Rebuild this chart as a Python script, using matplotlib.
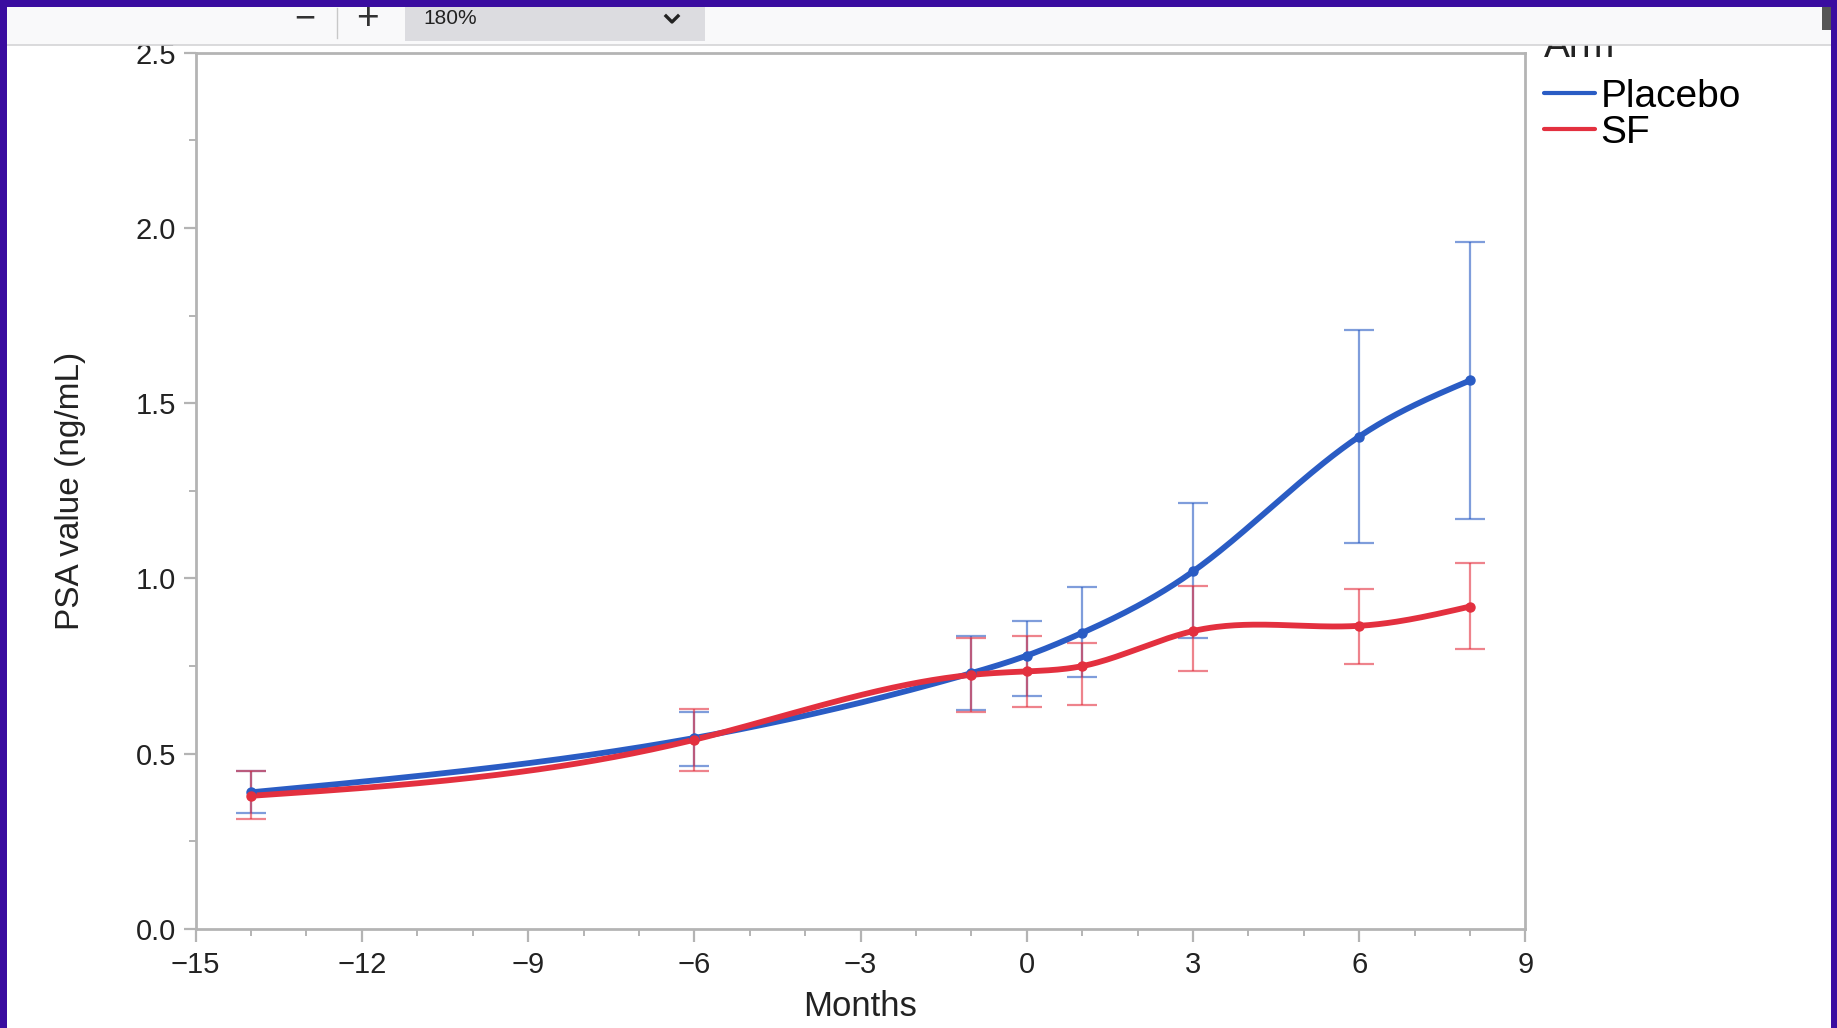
import numpy as np
import matplotlib
matplotlib.use("Agg")
import matplotlib.pyplot as plt
from matplotlib.patches import Rectangle
from matplotlib.lines import Line2D
from matplotlib.ticker import MultipleLocator

plt.rcParams["font.family"] = ["Liberation Sans", "DejaVu Sans"]

# Data
months = [-14, -6, -1, 0, 1, 3, 6, 8]
placebo = [0.39, 0.545, 0.73, 0.78, 0.845, 1.02, 1.405, 1.565]
placebo_lo = [0.33, 0.465, 0.625, 0.665, 0.72, 0.83, 1.10, 1.17]
placebo_hi = [0.45, 0.62, 0.835, 0.88, 0.975, 1.215, 1.71, 1.96]
sf = [0.38, 0.54, 0.725, 0.735, 0.75, 0.85, 0.865, 0.92]
sf_lo = [0.315, 0.45, 0.62, 0.632, 0.64, 0.735, 0.755, 0.80]
sf_hi = [0.45, 0.628, 0.83, 0.836, 0.815, 0.98, 0.97, 1.045]

BLUE = "#2a5cc4"
RED = "#e3303f"
PURPLE = "#3a0ca0"


def smooth_curve(x, y, n=400):
    # natural cubic spline, only used to draw the smoothed line
    x = np.asarray(x, float)
    y = np.asarray(y, float)
    k = len(x)
    h = np.diff(x)
    A = np.zeros((k, k))
    r = np.zeros(k)
    A[0, 0] = A[-1, -1] = 1
    for i in range(1, k - 1):
        A[i, i - 1] = h[i - 1]
        A[i, i] = 2 * (h[i - 1] + h[i])
        A[i, i + 1] = h[i]
        r[i] = 6 * ((y[i + 1] - y[i]) / h[i] - (y[i] - y[i - 1]) / h[i - 1])
    m = np.linalg.solve(A, r)
    xs = np.linspace(x[0], x[-1], n)
    idx = np.clip(np.searchsorted(x, xs) - 1, 0, k - 2)
    x0, x1 = x[idx], x[idx + 1]
    hh = x1 - x0
    t0, t1 = x1 - xs, xs - x0
    ys = (m[idx] * t0 ** 3 + m[idx + 1] * t1 ** 3) / (6 * hh) \
        + (y[idx] / hh - m[idx] * hh / 6) * t0 \
        + (y[idx + 1] / hh - m[idx + 1] * hh / 6) * t1
    return xs, ys


fig = plt.figure(figsize=(18.37, 10.28), dpi=100)
fig.patch.set_facecolor("white")
ax = fig.add_axes([0.1065, 0.0963, 0.7239, 0.8524])

for vals, lo, hi, c, name in [(placebo, placebo_lo, placebo_hi, BLUE, "Placebo"),
                              (sf, sf_lo, sf_hi, RED, "SF")]:
    v = np.array(vals)
    err = [v - np.array(lo), np.array(hi) - v]
    ax.errorbar(months, v, yerr=err, fmt="none", ecolor=c, alpha=0.6,
                elinewidth=1.6, capsize=11, capthick=1.6, zorder=2)
    xs, ys = smooth_curve(months, v)
    ax.plot(xs, ys, color=c, lw=4.2, zorder=3, label=name, solid_capstyle="round")
    ax.plot(months, v, "o", color=c, ms=6.5, zorder=4)

ax.set_xlim(-15, 9)
ax.set_ylim(0, 2.5)
ax.xaxis.set_major_locator(MultipleLocator(3))
ax.xaxis.set_minor_locator(MultipleLocator(1))
ax.yaxis.set_major_locator(MultipleLocator(0.5))
ax.yaxis.set_minor_locator(MultipleLocator(0.25))
ax.set_yticklabels([f"{t:.1f}" for t in ax.get_yticks()])
for s in ax.spines.values():
    s.set_color("#b4b4b4")
    s.set_linewidth(2)
ax.tick_params(which="major", length=9, width=1.6, color="#b4b4b4",
               labelsize=21, labelcolor="#222222", pad=5)
ax.tick_params(axis="x", which="major", pad=7)
ax.tick_params(which="minor", length=5, width=1.4, color="#b4b4b4")

ax.set_xlabel("Months", fontsize=25, color="#222222", labelpad=8)
ax.set_ylabel("PSA value (ng/mL)", fontsize=24, color="#222222", labelpad=36)

leg = ax.legend(loc="upper left", bbox_to_anchor=(1.014, 0.97),
                frameon=False, fontsize=28,
                handlelength=1.3, handletextpad=0.15, labelspacing=0.0,
                borderaxespad=0.0, borderpad=0.0)
for line in leg.get_lines():
    line.set_linewidth(3)

# legend title, partly hidden under the browser toolbar
W, H = 1837, 1028
def fx(px):
    return px / W
def fy(py):
    return 1 - py / H

fig.text(fx(1544), fy(57), "Arm", fontsize=28, ha="left", va="baseline", color="#222222")

# browser toolbar and border on top of the figure
fig.patches.append(Rectangle((0, fy(45)), 1, fy(0) - fy(45), transform=fig.transFigure,
                             facecolor="#f9f9fa", edgecolor="none", zorder=10))
fig.lines.append(Line2D([0, 1], [fy(45), fy(45)], transform=fig.transFigure,
                        color="#d4d4d6", lw=1.2, zorder=11))
fig.patches.append(Rectangle((fx(405), fy(41)), fx(300), fy(0) - fy(41),
                             transform=fig.transFigure, facecolor="#dcdce0",
                             edgecolor="none", zorder=11))
fig.text(fx(305), fy(19), "\u2212", fontsize=26, ha="center", va="center",
         color="#333333", zorder=12)
fig.lines.append(Line2D([fx(337), fx(337)], [fy(8), fy(38)], transform=fig.transFigure,
                        color="#c8c8c8", lw=1, zorder=12))
fig.text(fx(367), fy(19), "+", fontsize=28, ha="center", va="center",
         color="#333333", zorder=12)
fig.text(fx(423), fy(19), "180%", fontsize=15, ha="left", va="center",
         color="#222222", zorder=12)
fig.lines.append(Line2D([fx(666), fx(672), fx(678)], [fy(16), fy(22), fy(16)],
                        transform=fig.transFigure, color="#222222", lw=2.4, zorder=12))
fig.patches.append(Rectangle((fx(1822), fy(30)), fx(9), fy(7) - fy(30),
                             transform=fig.transFigure, facecolor="#555555",
                             edgecolor="none", zorder=12))

for rect in [(0, fy(7), 1, fy(0) - fy(7)),
             (0, 0, fx(7), 1),
             (fx(1831), 0, 1 - fx(1831), 1)]:
    fig.patches.append(Rectangle(rect[:2], rect[2], rect[3], transform=fig.transFigure,
                                 facecolor=PURPLE, edgecolor="none", zorder=20))

fig.savefig("out.png", dpi=100)
